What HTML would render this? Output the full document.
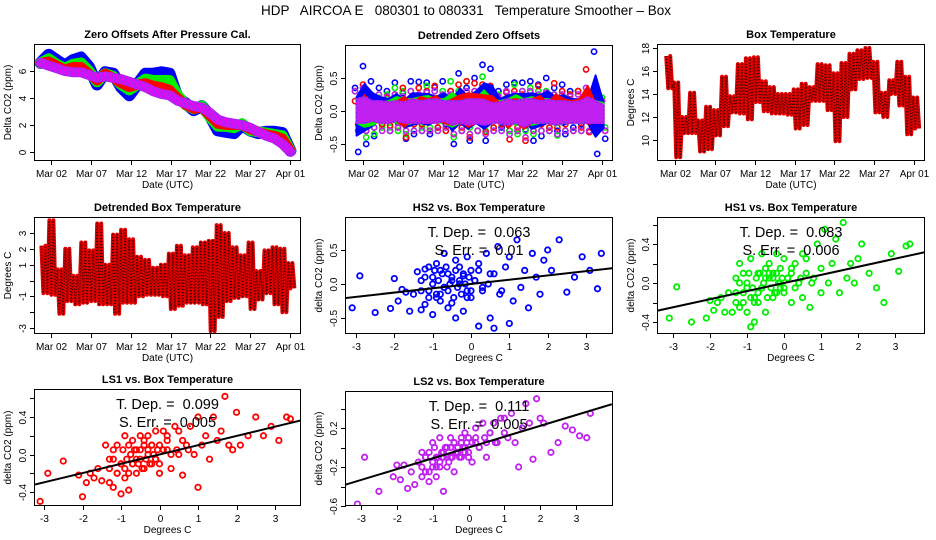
<!DOCTYPE html>
<html><head><meta charset="utf-8"><style>
body{margin:0;background:#fff;}
svg{display:block;font-family:"Liberation Sans",sans-serif;}
</style></head><body>
<svg id="chart" width="936" height="540" viewBox="0 0 936 540" xmlns="http://www.w3.org/2000/svg">
<rect width="936" height="540" fill="#fff"/>
<text x="466" y="15" text-anchor="middle" font-size="13.5" style="white-space:pre" xml:space="preserve">HDP   AIRCOA E   080301 to 080331   Temperature Smoother – Box</text>
</svg>
<script>
// ---------- data ----------
const dateTickDays = [1,6,11,16,21,26,31];
const dateTickLabels = ["Mar 02","Mar 07","Mar 12","Mar 17","Mar 22","Mar 27","Apr 01"];

const zeroBlue   = [6.6,7.2,6.8,6.4,6.8,7.0,6.3,5.0,5.9,5.8,4.8,4.2,5.0,5.8,5.8,5.9,5.8,4.0,3.6,3.1,3.4,2.7,1.6,1.5,1.4,2.0,1.6,1.4,1.5,1.5,1.4,0.1];
const zeroGreen  = [6.6,6.9,6.5,6.2,6.5,6.6,6.0,5.2,5.8,5.6,5.0,4.6,5.0,5.4,5.3,5.3,5.3,4.2,3.5,3.2,3.4,2.6,1.9,1.9,1.8,2.1,1.6,1.5,1.4,1.3,1.2,0.1];
const zeroRed    = [6.6,6.7,6.4,6.1,6.3,6.3,5.8,5.3,5.8,5.5,5.1,4.8,5.0,5.1,4.9,4.8,4.6,4.0,3.5,3.2,3.3,2.7,2.1,2.0,2.0,2.0,1.7,1.5,1.3,1.2,1.0,0.1];
const zeroPurple = [6.6,6.4,6.2,6.0,5.9,5.9,5.7,5.5,5.6,5.5,5.4,5.2,5.0,4.8,4.5,4.3,4.2,3.8,3.6,3.4,3.3,2.9,2.4,2.2,2.1,2.0,1.8,1.5,1.2,1.0,0.6,0.0];

const detBlueHi   = [0.35,0.68,0.45,0.35,0.3,0.43,0.27,0.45,0.44,0.43,0.36,0.45,0.3,0.57,0.35,0.5,0.7,0.64,0.3,0.4,0.43,0.43,0.45,0.4,0.5,0.35,0.4,0.3,0.3,0.27,0.9,0.2];
const detBlueLo   = [-0.62,-0.5,-0.38,-0.2,-0.3,-0.18,-0.42,-0.35,-0.3,-0.35,-0.25,-0.2,-0.5,-0.3,-0.45,-0.3,-0.45,-0.3,-0.25,-0.3,-0.3,-0.28,-0.45,-0.38,-0.3,-0.3,-0.35,-0.25,-0.2,-0.3,-0.65,-0.42];
const detGreenHi  = [0.3,0.35,0.2,0.2,0.25,0.35,0.3,0.3,0.35,0.38,0.3,0.3,0.45,0.3,0.45,0.3,0.52,0.3,0.25,0.3,0.4,0.3,0.35,0.3,0.3,0.25,0.25,0.25,0.3,0.25,0.25,0.2];
const detGreenLo  = [-0.3,-0.4,-0.35,-0.25,-0.25,-0.3,-0.35,-0.3,-0.25,-0.25,-0.3,-0.3,-0.4,-0.3,-0.25,-0.3,-0.3,-0.25,-0.3,-0.3,-0.35,-0.3,-0.35,-0.3,-0.25,-0.37,-0.3,-0.3,-0.3,-0.3,-0.3,-0.25];
const detRedHi    = [0.15,0.4,0.2,0.15,0.2,0.25,0.35,0.2,0.35,0.3,0.38,0.2,0.3,0.4,0.45,0.42,0.4,0.38,0.2,0.28,0.3,0.25,0.3,0.38,0.2,0.42,0.3,0.25,0.3,0.63,0.2,0.15];
const detRedLo    = [-0.2,-0.3,-0.25,-0.2,-0.22,-0.25,-0.4,-0.2,-0.2,-0.3,-0.25,-0.3,-0.35,-0.25,-0.4,-0.3,-0.32,-0.25,-0.2,-0.43,-0.25,-0.45,-0.3,-0.2,-0.25,-0.25,-0.2,-0.3,-0.25,-0.32,-0.3,-0.3];
const detPurpleHi = [0.3,0.35,0.25,0.25,0.22,0.25,0.22,0.3,0.25,0.28,0.3,0.25,0.25,0.25,0.3,0.3,0.28,0.2,0.22,0.3,0.25,0.3,0.3,0.25,0.28,0.25,0.25,0.22,0.25,0.35,0.25,0.15];
const detPurpleLo = [-0.3,-0.3,-0.25,-0.3,-0.3,-0.25,-0.3,-0.3,-0.3,-0.3,-0.3,-0.25,-0.35,-0.3,-0.35,-0.3,-0.35,-0.3,-0.3,-0.35,-0.3,-0.4,-0.3,-0.3,-0.3,-0.35,-0.3,-0.3,-0.3,-0.3,-0.3,-0.3];

const boxHi = [17.3,15,12,14.1,11.7,12.9,12.6,15.5,13.8,16.6,17.1,17.2,15.1,14.6,14,14,14.4,14.9,14.6,16.6,16.5,15.8,16.7,17.5,17.8,18,16.8,14.1,15.2,16.8,15.5,13.7];
const boxLo = [14.5,8.5,10.6,10.6,9,9.2,10.4,11.2,12.4,12.3,11.8,13.3,12.5,12.3,12.3,12.2,11,11.3,13.4,13.4,12.6,9.9,12,14.4,15.3,15.4,12.4,12,14,13,10.5,11];

const dboxHi = [2.2,3.8,0.7,2.0,0.3,2.4,1.9,3.6,1.0,2.9,3.2,2.6,1.5,1.3,0.8,1.0,1.7,2.2,1.6,2.1,2.4,2.5,3.5,3.0,2.1,1.6,2.4,0.6,1.9,2.1,2.0,1.1];
const dboxLo = [-0.8,-0.9,-2.1,-1.3,-1.5,-1.4,-1.3,-1.5,-1.5,-2.1,-1.4,-1.4,-1.0,-0.9,-0.9,-1.0,-1.8,-1.6,-1.4,-1.4,-1.5,-3.2,-2.3,-1.3,-1.1,-1.0,-1.8,-1.2,-0.8,-1.5,-2.0,-0.5];

const tempX = [-3.1,-2.9,-2.5,-2.1,-2.0,-1.9,-1.8,-1.7,-1.6,-1.5,
 -1.4,-1.3,-1.3,-1.2,-1.2,-1.1,-1.1,-1.0,-1.0,-0.9,
 -0.9,-0.8,-0.8,-0.7,-0.7,-0.6,-0.6,-0.5,-0.5,-0.4,
 -0.4,-0.3,-0.3,-0.2,-0.2,-0.1,-0.1,0.0,0.0,0.1,
 0.2,0.2,0.3,0.4,0.5,0.5,0.6,0.7,0.8,0.9,
 1.0,1.0,1.1,1.2,1.3,1.4,1.5,1.6,1.7,1.8,
 1.9,2.0,2.1,2.3,2.5,2.7,2.9,3.1,3.3,3.4,
 -1.3,-1.2,-1.1,-1.0,-0.95,-0.9,-0.85,-0.8,-0.75,-0.7,
 -0.65,-0.6,-0.55,-0.5,-0.45,-0.4,-0.35,-0.3,-0.25,-0.2,
 -0.15,-0.1,-0.05,0.0,0.1,0.2,0.3,0.45,0.6,0.75];
const hs2Y = [-0.35,0.12,-0.42,-0.36,0.08,-0.25,-0.08,-0.12,-0.40,-0.15,
 0.18,-0.38,0.05,-0.30,0.22,-0.10,0.25,-0.45,0.10,-0.20,
 0.30,-0.15,0.20,-0.05,0.45,-0.35,0.15,0.05,-0.28,0.35,
 -0.50,0.00,0.25,-0.40,0.12,0.40,-0.20,0.20,-0.10,0.05,
 -0.62,0.30,-0.05,0.45,-0.50,0.15,-0.65,0.55,-0.10,0.25,
 -0.58,0.40,-0.25,0.65,-0.05,0.20,-0.35,0.45,0.10,-0.15,
 0.35,0.50,0.20,0.65,-0.12,0.10,0.40,0.20,-0.07,0.45,
 -0.1,0.1,-0.2,0.0,0.2,-0.15,0.05,-0.25,0.15,-0.05,
 0.25,-0.1,0.0,0.1,-0.2,0.2,-0.05,0.05,-0.15,0.15,
 0.0,-0.1,0.1,-0.2,0.05,0.2,-0.1,0.0,0.15,-0.15];
const hs1Y = [-0.36,-0.04,-0.40,-0.36,-0.18,-0.28,-0.20,-0.15,-0.30,-0.10,
 -0.30,0.05,-0.20,0.20,-0.25,-0.10,0.10,-0.30,0.00,-0.45,
 0.25,-0.15,-0.40,0.10,-0.20,0.30,-0.05,0.15,-0.30,0.05,
 0.20,-0.15,0.10,0.30,-0.10,0.00,0.15,-0.05,0.25,0.05,
 -0.20,0.10,0.20,0.00,0.30,-0.15,0.25,-0.25,0.05,0.40,
 -0.10,0.15,0.55,0.00,0.20,0.45,-0.10,0.62,0.05,0.20,
 0.00,0.25,0.40,0.10,-0.05,-0.20,0.30,0.12,0.38,0.40,
 -0.1,0.0,-0.2,-0.05,0.1,-0.15,-0.05,-0.2,0.05,-0.1,
 0.1,-0.05,0.0,0.05,-0.15,0.1,-0.05,0.05,-0.1,0.1,
 0.0,-0.05,0.05,-0.1,0.05,0.15,-0.05,0.05,0.1,0.0];
const ls1Y = [-0.50,-0.20,-0.07,-0.22,-0.45,-0.30,-0.20,-0.25,-0.15,-0.28,
 0.10,-0.30,-0.05,-0.35,0.05,-0.20,0.10,-0.42,-0.10,0.20,
 -0.25,0.10,-0.38,0.15,-0.10,0.05,-0.20,0.20,-0.05,0.15,
 -0.15,0.00,0.20,-0.10,0.10,0.25,-0.05,0.10,-0.20,0.25,
 0.05,0.20,-0.15,0.30,0.00,0.25,-0.22,0.10,0.30,0.00,
 -0.35,0.40,0.10,0.20,-0.05,0.40,0.15,0.25,0.62,0.10,
 0.05,0.45,0.10,0.20,0.40,0.20,0.30,0.15,0.40,0.38,
 -0.15,-0.05,-0.2,-0.1,0.05,-0.15,-0.05,-0.2,0.0,-0.1,
 0.05,-0.05,-0.1,0.05,-0.15,0.1,-0.05,0.05,-0.1,0.1,
 0.0,-0.05,0.05,-0.1,0.05,0.15,0.0,0.05,0.15,0.05];
const ls2Y = [-0.58,-0.10,-0.45,-0.30,-0.18,-0.33,-0.18,-0.42,-0.25,-0.38,
 -0.15,-0.30,-0.05,-0.25,-0.10,-0.35,-0.05,-0.20,0.05,-0.10,
 -0.30,0.10,-0.15,-0.45,-0.05,0.00,-0.20,0.10,-0.10,0.05,
 -0.25,0.00,-0.05,0.10,-0.10,0.15,0.00,-0.05,0.10,-0.15,
 0.05,0.20,0.00,0.25,0.05,-0.10,0.15,0.25,0.05,0.30,
 0.15,0.30,0.10,0.35,0.05,-0.20,0.20,0.45,0.25,-0.12,
 0.50,0.30,0.25,-0.05,0.05,0.22,0.18,0.12,0.10,0.35,
 -0.2,-0.1,-0.25,-0.15,0.0,-0.2,-0.1,-0.2,-0.05,-0.1,
 0.0,-0.1,-0.15,0.0,-0.1,0.05,-0.05,0.0,-0.1,0.05,
 0.0,-0.05,0.05,-0.1,0.05,0.1,0.0,0.1,0.15,0.05];
const tempDep = [0.063, 0.083, 0.099, 0.111];
const tempDepLabels = ["0.063","0.083","0.099","0.111"];
const stdErrLabels = ["0.01","0.006","0.005","0.005"];
const scatterXTicks = [-3,-2,-1,0,1,2,3];

// ---------- helpers ----------
const NS = "http://www.w3.org/2000/svg";
const svg = document.getElementById("chart");
function mk(tag, attrs, parent){
  const e = document.createElementNS(NS, tag);
  for (const k in attrs) e.setAttribute(k, attrs[k]);
  (parent||svg).appendChild(e);
  return e;
}
function lin(v1,p1,v2,p2){ const s=(p2-p1)/(v2-v1); return v=>p1+(v-v1)*s; }

function panel(cfg){
  const g = mk("g",{});
  
  
  const clipId = cfg.name+"-clip";
  const cp = mk("clipPath",{id:clipId},g);
  mk("rect",{x:cfg.x0,y:cfg.y0,width:cfg.x1-cfg.x0,height:cfg.y1-cfg.y0},cp);
  const plot = mk("g",{"clip-path":"url(#"+clipId+")"},g);
  
  
  const t = mk("text",{x:(cfg.x0+cfg.x1)/2,y:cfg.y0-7,"text-anchor":"middle","font-size":"11","font-weight":"bold"},g);
  t.textContent = cfg.title;
  
  
  const xa = mk("g",{},g);
  
  
  const xs = cfg.xTicks.map(cfg.fx);
  mk("line",{x1:xs[0],x2:xs[xs.length-1],y1:cfg.y1+0.5,y2:cfg.y1+0.5,stroke:"#000"},xa);
  cfg.xTicks.forEach((v,i)=>{
    const px = Math.round(cfg.fx(v))+0.5;
    mk("line",{x1:px,x2:px,y1:cfg.y1,y2:cfg.y1+5,stroke:"#000"},xa);
    const lt = mk("text",{x:px,y:cfg.y1+17,"text-anchor":"middle","font-size":"10"},xa);
    lt.textContent = cfg.xLabels[i];
    
    
  });
  const xt = mk("text",{x:(cfg.x0+cfg.x1)/2,y:cfg.y1+28,"text-anchor":"middle","font-size":"10"},xa);
  xt.textContent = cfg.xTitle;
  
  
  const ya = mk("g",{},g);
  
  
  const ys = cfg.yTicks.map(cfg.fy);
  mk("line",{x1:cfg.x0-0.5,x2:cfg.x0-0.5,y1:ys[0],y2:ys[ys.length-1],stroke:"#000"},ya);
  cfg.yTicks.forEach((v,i)=>{
    const py = Math.round(cfg.fy(v))+0.5;
    mk("line",{x1:cfg.x0-5,x2:cfg.x0,y1:py,y2:py,stroke:"#000"},ya);
    if (cfg.yLabels[i]!==""){
      const lt = mk("text",{x:0,y:0,"text-anchor":"middle","font-size":"10",transform:`translate(${cfg.x0-9},${py}) rotate(-90)`},ya);
      lt.textContent = cfg.yLabels[i];
      
      
    }
  });
  const yt = mk("text",{x:0,y:0,"text-anchor":"middle","font-size":"10",transform:`translate(${cfg.x0-24},${(cfg.y0+cfg.y1)/2}) rotate(-90)`},ya);
  yt.textContent = cfg.yTitle;
  
  
  const box = mk("rect",{x:cfg.x0-0.5,y:cfg.y0-0.5,width:cfg.x1-cfg.x0+1,height:cfg.y1-cfg.y0+1,fill:"none",stroke:"#000"},g);
  
  
  return plot;
}

function dailyLine(vals, start, step, fx, fy){
  return vals.map((v,i)=>fx(start+i*step).toFixed(1)+","+fy(v).toFixed(1)).join(" ");
}
// zigzag with two swings per day between the day's hi and lo
function hiLoLine(hi, lo, start, fx, fy){
  const pts=[];
  hi.forEach((h,i)=>{
    [0.1,0.35,0.6,0.85].forEach((o,j)=>{
      const v = (j%2===0)?h:lo[i];
      pts.push(fx(start+i+o).toFixed(1)+","+fy(v).toFixed(1));
    });
  });
  return pts.join(" ");
}
// band polygon between hi and lo
function bandPoly(hi, lo, start, fx, fy){
  const top = hi.map((v,i)=>fx(start+i+0.5).toFixed(1)+","+fy(v).toFixed(1));
  const bot = lo.map((v,i)=>fx(start+i+0.5).toFixed(1)+","+fy(v).toFixed(1)).reverse();
  return top.concat(bot).join(" ");
}

// ---------- Panel 1 ----------
{
  const fx = lin(1,51,31,290), fy = lin(0,152,6,71);
  const p = panel({name:"zero-offsets-panel",title:"Zero Offsets After Pressure Cal.",x0:35,y0:45,x1:300,y1:160,fx,fy,
    xTicks:dateTickDays,xLabels:dateTickLabels,xTitle:"Date (UTC)",
    yTicks:[0,2,4,6],yLabels:["0","2","4","6"],yTitle:"Delta CO2 (ppm)"});
  const series=[[zeroBlue,"#0000ff",12,"series-hs2"],[zeroGreen,"#00ee00",11,"series-hs1"],[zeroRed,"#ff0000",10,"series-ls1"],[zeroPurple,"#b020f0",10,"series-ls2"]];
  series.forEach(s=>{
    const l = mk("polyline",{points:dailyLine(s[0],-0.3,31.35/31,fx,fy),fill:"none",stroke:s[1],"stroke-width":s[2],"stroke-linejoin":"round","stroke-linecap":"round"},p);
    
    
  });
  const d = mk("polyline",{points:dailyLine(zeroPurple,-0.3,31.35/31,fx,fy),fill:"none",stroke:"#ff00ff","stroke-width":8,"stroke-dasharray":"1 2","stroke-linejoin":"round"},p);
  
  
}

// ---------- Panel 2 ----------
{
  const fx = lin(1,363,31,602), fy = lin(0,111,0.5,78);
  const p = panel({name:"detrended-zero-panel",title:"Detrended Zero Offsets",x0:346,y0:46,x1:612,y1:160,fx,fy,
    xTicks:dateTickDays,xLabels:dateTickLabels,xTitle:"Date (UTC)",
    yTicks:[-0.5,0,0.5],yLabels:["-0.5","0.0","0.5"],yTitle:"Delta CO2 (ppm)"});
  const series=[[detBlueHi,detBlueLo,"#0000ff","det-series-hs2"],[detGreenHi,detGreenLo,"#00ee00","det-series-hs1"],[detRedHi,detRedLo,"#ff0000","det-series-ls1"],[detPurpleHi,detPurpleLo,"#c020f0","det-series-ls2"]];
  series.forEach(s=>{
    s[0].forEach((v,i)=>{
      const c = mk("circle",{cx:fx(-0.3+i+0.3),cy:fy(v),r:2.6,fill:"none",stroke:s[2],"stroke-width":1.6},p);
      
      
      const c2 = mk("circle",{cx:fx(-0.3+i+0.7),cy:fy(s[1][i]),r:2.6,fill:"none",stroke:s[2],"stroke-width":1.6},p);
      
      
    });
  });
  series.forEach(s=>{
    const b = mk("polygon",{points:bandPoly(s[0].map(v=>v*0.6),s[1].map(v=>v*0.6),-0.3,fx,fy),fill:s[2],stroke:s[2],"stroke-width":2,"stroke-linejoin":"round"},p);
    
    
  });
  const tex = mk("polygon",{points:bandPoly(detPurpleHi.map(v=>v*0.6),detPurpleLo.map(v=>v*0.6),-0.3,fx,fy),fill:"none",stroke:"#3030ff","stroke-width":1,"stroke-dasharray":"1 3"},p);
  
  
}

// ---------- Panel 3 ----------
{
  const fx = lin(1,675,31,914), fy = lin(10,140,18,48);
  const p = panel({name:"box-temperature-panel",title:"Box Temperature",x0:658,y0:45,x1:924,y1:160,fx,fy,
    xTicks:dateTickDays,xLabels:dateTickLabels,xTitle:"Date (UTC)",
    yTicks:[10,12,14,16,18],yLabels:["10","12","14","16","18"],yTitle:"Degrees C"});
  const l = mk("polyline",{points:hiLoLine(boxHi,boxLo,-0.2,fx,fy),fill:"none",stroke:"#e00000","stroke-width":4,"stroke-linejoin":"round"},p);
  
  
  const d = mk("polyline",{points:hiLoLine(boxHi,boxLo,-0.2,fx,fy),fill:"none",stroke:"#300","stroke-width":1.5,"stroke-dasharray":"1 2","stroke-linejoin":"round"},p);
  
  
}

// ---------- Panel 4 ----------
{
  const fx = lin(1,51,31,290), fy = lin(-3,328,3,233);
  const p = panel({name:"detrended-box-temperature-panel",title:"Detrended Box Temperature",x0:35,y0:218,x1:300,y1:333,fx,fy,
    xTicks:dateTickDays,xLabels:dateTickLabels,xTitle:"Date (UTC)",
    yTicks:[-3,-2,-1,0,1,2,3],yLabels:["-3","","-1","","1","2","3"],yTitle:"Degrees C"});
  const l = mk("polyline",{points:hiLoLine(dboxHi,dboxLo,-0.3,fx,fy),fill:"none",stroke:"#e00000","stroke-width":4,"stroke-linejoin":"round"},p);
  
  
  const d = mk("polyline",{points:hiLoLine(dboxHi,dboxLo,-0.3,fx,fy),fill:"none",stroke:"#300","stroke-width":1.5,"stroke-dasharray":"1 2","stroke-linejoin":"round"},p);
  
  
}

// ---------- Scatter panels ----------
function scatter(cfg, ys, color, k){
  const p = panel(Object.assign(cfg,{xTicks:scatterXTicks,xLabels:scatterXTicks.map(String),xTitle:"Degrees C",yTitle:"delta CO2 (ppm)"}));
  tempX.forEach((x,i)=>{
    const c = mk("circle",{cx:cfg.fx(x),cy:cfg.fy(ys[i]),r:2.7,fill:"none",stroke:color,"stroke-width":1.8},p);
    
    
  });
  const xa=-4, xb=4;
  const ln = mk("line",{x1:cfg.fx(xa),y1:cfg.fy(tempDep[k]*xa),x2:cfg.fx(xb),y2:cfg.fy(tempDep[k]*xb),stroke:"#000","stroke-width":2},p);
  
  
  const cx=(cfg.x0+cfg.x1)/2;
  const t1 = mk("text",{x:cx,y:cfg.y0+19,"text-anchor":"middle","font-size":"14.5",style:"white-space:pre"});
  t1.textContent = "T. Dep. =  "+tempDepLabels[k];
  
  
  const t2 = mk("text",{x:cx,y:cfg.y0+37,"text-anchor":"middle","font-size":"14.5",style:"white-space:pre"});
  t2.textContent = "S. Err. =  "+stdErrLabels[k];
  
  
}
scatter({name:"hs2-scatter-panel",title:"HS2 vs. Box Temperature",x0:346,y0:218,x1:612,y1:333,
  fx:lin(-3,356,3,586),fy:lin(-0.5,318,0.5,250),yTicks:[-0.5,0,0.5],yLabels:["-0.5","0.0","0.5"]}, hs2Y, "#0000ff", 0);
scatter({name:"hs1-scatter-panel",title:"HS1 vs. Box Temperature",x0:658,y0:218,x1:924,y1:333,
  fx:lin(-3,673,3,895),fy:lin(-0.4,322,0.4,244),yTicks:[-0.4,-0.2,0,0.2,0.4,0.6],yLabels:["-0.4","","0.0","","0.4",""]}, hs1Y, "#00ee00", 1);
scatter({name:"ls1-scatter-panel",title:"LS1 vs. Box Temperature",x0:35,y0:390,x1:300,y1:505,
  fx:lin(-3,44,3,275),fy:lin(-0.4,492,0.4,417),yTicks:[-0.4,-0.2,0,0.2,0.4,0.6],yLabels:["-0.4","","0.0","","0.4",""]}, ls1Y, "#ff0000", 2);
scatter({name:"ls2-scatter-panel",title:"LS2 vs. Box Temperature",x0:346,y0:392,x1:612,y1:505,
  fx:lin(-3,361,3,576),fy:lin(-0.2,467,0.2,428),yTicks:[-0.6,-0.4,-0.2,0,0.2,0.4],yLabels:["-0.6","","-0.2","","0.2",""]}, ls2Y, "#c020f0", 3);
</script>
</body></html>
